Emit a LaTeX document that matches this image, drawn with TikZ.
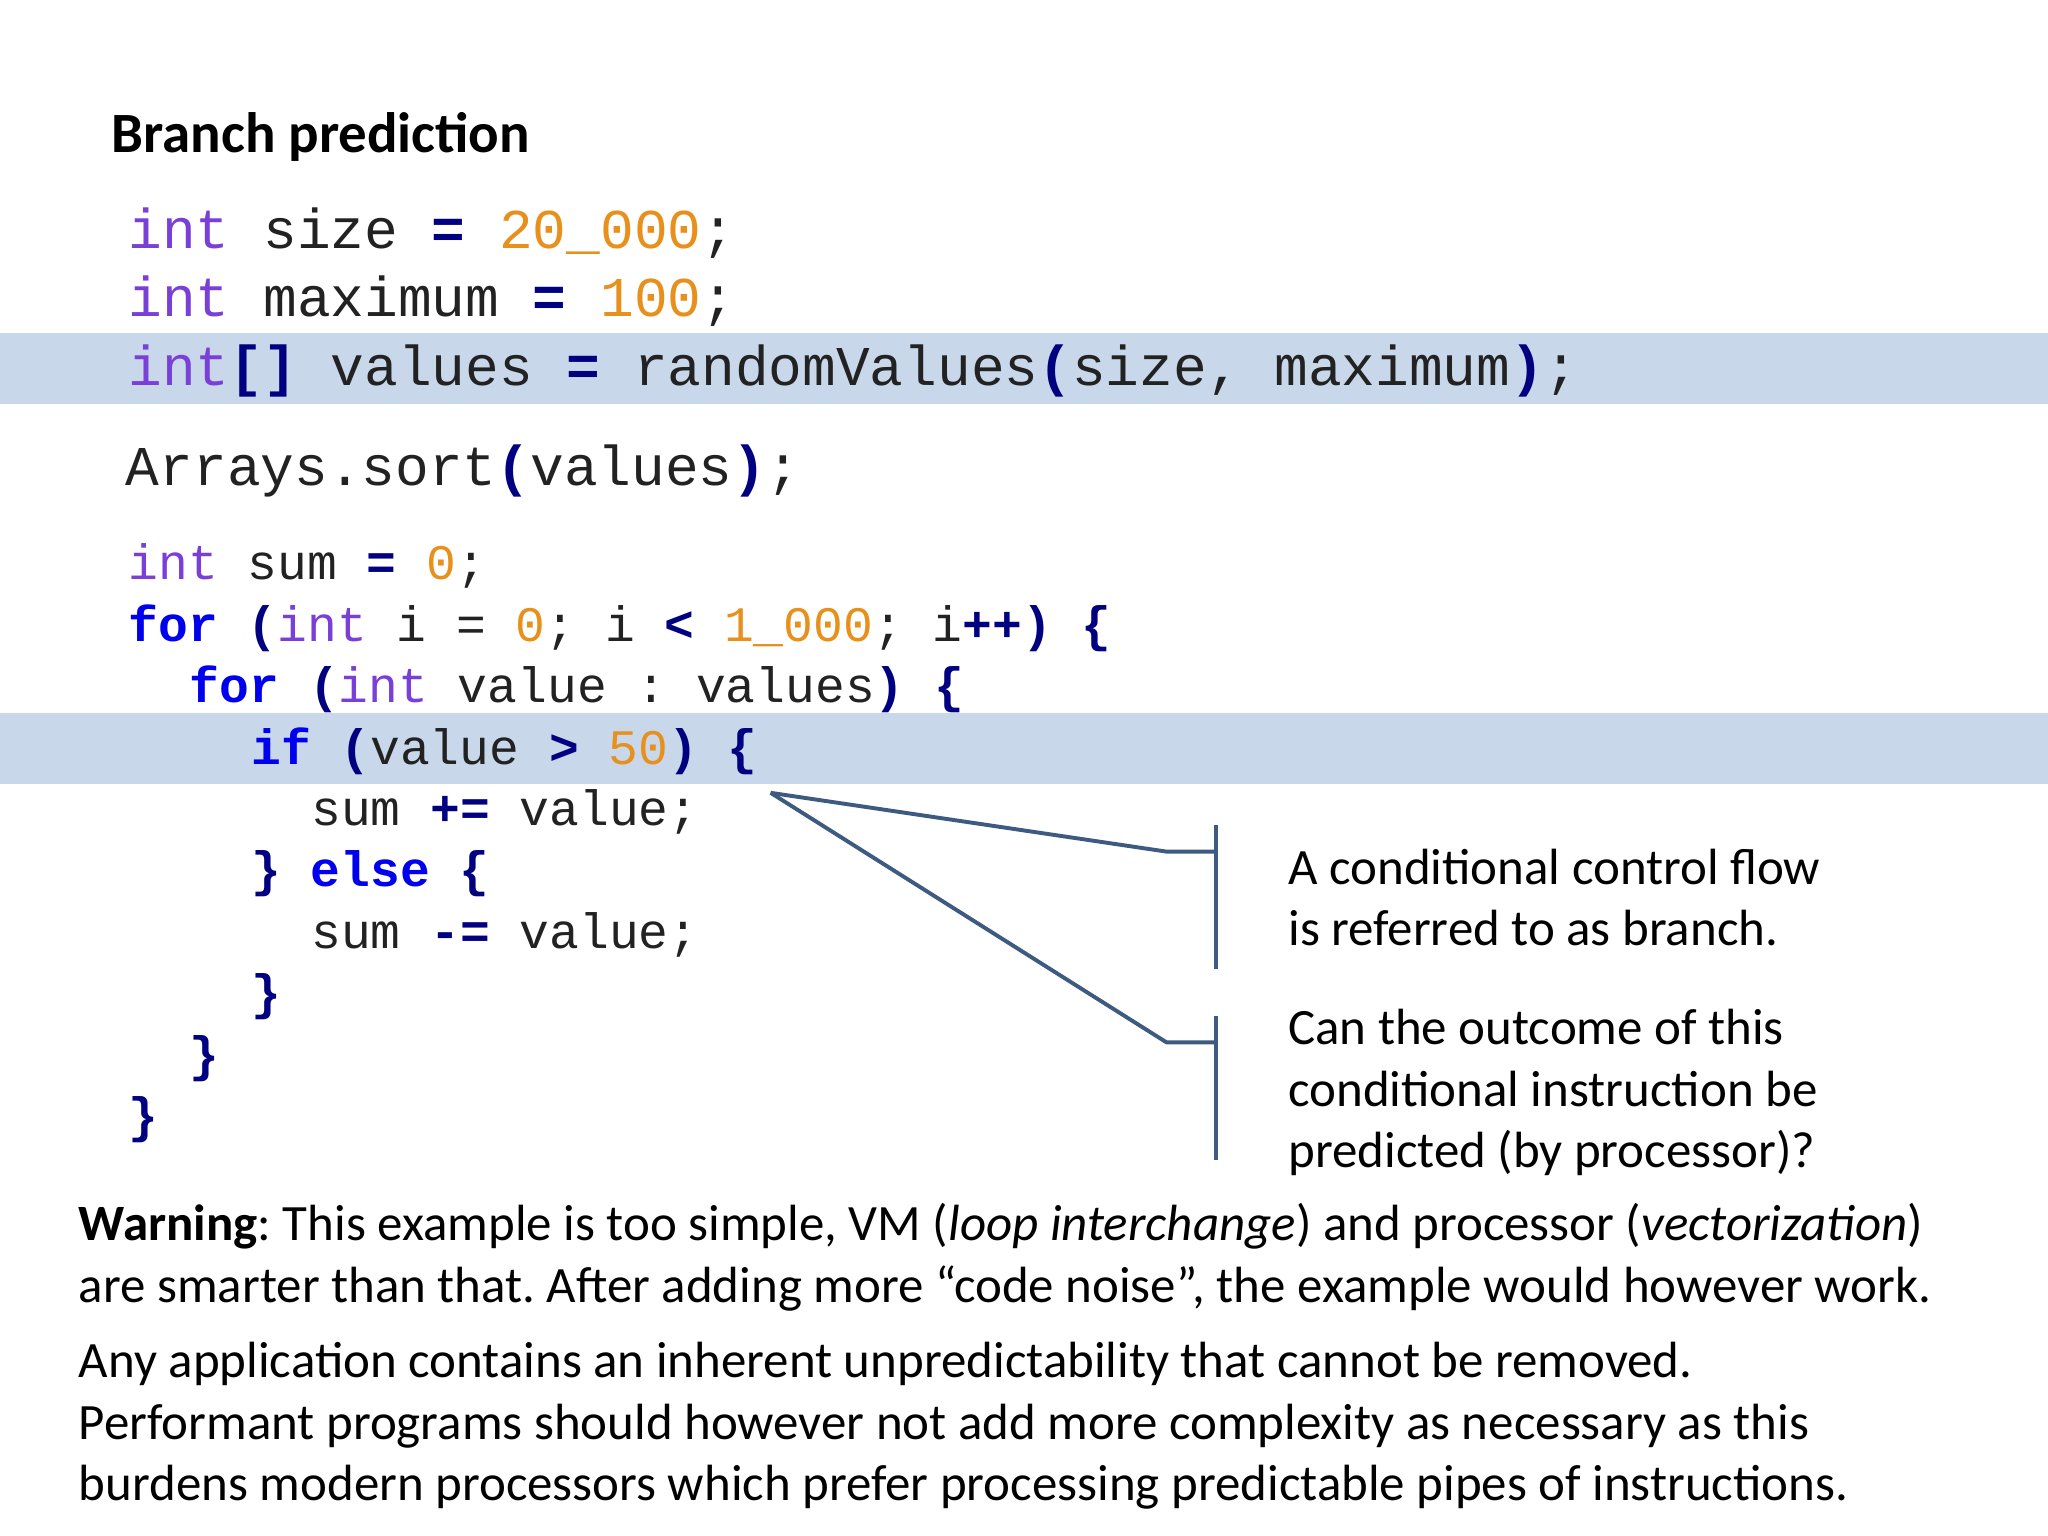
\documentclass[tikz,border=0pt]{standalone}
\usepackage{fontspec}
\setmainfont{Carlito}
\setmonofont{Liberation Mono}
\frenchspacing
\definecolor{kwp}{HTML}{7A3FD6}
\definecolor{num}{HTML}{E8901C}
\definecolor{op}{HTML}{000080}
\definecolor{kw}{HTML}{0000EE}
\definecolor{txt}{HTML}{222222}
\definecolor{hl}{HTML}{C8D7EA}
\definecolor{ln}{HTML}{3D5A80}
\newcommand{\Ki}[1]{\textcolor{kwp}{#1}}
\newcommand{\Nu}[1]{\textcolor{num}{#1}}
\newcommand{\Op}[1]{\textcolor{op}{\bfseries #1}}
\newcommand{\Kw}[1]{\textcolor{kw}{\bfseries #1}}
\begin{document}
\begin{tikzpicture}[x=0.5pt,y=-0.5pt,
  big/.style={anchor=base west,inner sep=0,font=\ttfamily\fontsize{21.5}{21.5}\selectfont,text=txt},
  small/.style={anchor=base west,inner sep=0,font=\ttfamily\fontsize{19}{19}\selectfont,text=txt},
  body/.style={anchor=base west,inner sep=0,font=\fontsize{19.5}{19.5}\selectfont,text=black},
  conn/.style={draw=ln,line width=1.5pt}]
\useasboundingbox (0,0) rectangle (1568,1176);
\fill[hl] (0,255) rectangle (1568,309);
\fill[hl] (0,546) rectangle (1568,600);
\node[anchor=base west,inner sep=0,font=\bfseries\fontsize{21.8}{21.8}\selectfont] (title) at (85,117) {Branch prediction};
\node[big] (c1) at (98,190) {\Ki{int} size \Op{=} \Nu{20\_000};};
\node[big] (c2) at (98,242) {\Ki{int} maximum \Op{=} \Nu{100};};
\node[big] (c3) at (98,295) {\Ki{int}\Op{[]} values \Op{=} randomValues\Op{(}size, maximum\Op{)};};
\node[big] (c4) at (96,372) {Arrays.sort\Op{(}values\Op{)};};
\node[small] (d1) at (98,444) {\Ki{int} sum \Op{=} \Nu{0};};
\node[small] (d2) at (98,491) {\Kw{for} \Op{(}\Ki{int} i = \Nu{0}; i \Op{<} \Nu{1\_000}; i\Op{++}\Op{)} \Op{\{}};
\node[small] (d3) at (145,538) {\Kw{for} \Op{(}\Ki{int} value : values\Op{)} \Op{\{}};
\node[small] (d4) at (192,585) {\Kw{if} \Op{(}value \Op{>} \Nu{50}\Op{)} \Op{\{}};
\node[small] (d5) at (238,632) {sum \Op{+=} value;};
\node[small] (d6) at (192,679) {\Op{\}} \Kw{else} \Op{\{}};
\node[small] (d7) at (238,726) {sum \Op{-=} value;};
\node[small] (d8) at (192,773) {\Op{\}}};
\node[small] (d9) at (145,820) {\Op{\}}};
\node[small] (d10) at (98,867) {\Op{\}}};
\coordinate (s) at (590,607);
\coordinate (b1) at (931,652);
\coordinate (b2) at (931,798);
\draw[conn] (s) -- (893,652) -- (b1);
\draw[conn] (s) -- (893,798) -- (b2);
\draw[conn] (931,632) -- (931,742);
\draw[conn] (931,778) -- (931,888);
\node[body] (t1) at (986,677) {A conditional control flow};
\node[body] (t2) at (986,724) {is referred to as branch.};
\node[body] (t3) at (986,800) {Can the outcome of this};
\node[body] (t4) at (986,847) {conditional instruction be};
\node[body] (t5) at (986,894) {predicted (by processor)?};
\node[body] (w1) at (60,950) {\textbf{Warning}: This example is too simple, VM (\textit{loop interchange}) and processor (\textit{vectorization})};
\node[body] (w2) at (60,997) {are smarter than that. After adding more “code noise”, the example would however work.};
\node[body] (a1) at (60,1055) {Any application contains an inherent unpredictability that cannot be removed.};
\node[body] (a2) at (60,1102) {Performant programs should however not add more complexity as necessary as this};
\node[body] (a3) at (60,1149) {burdens modern processors which prefer processing predictable pipes of instructions.};
\end{tikzpicture}
\end{document}
